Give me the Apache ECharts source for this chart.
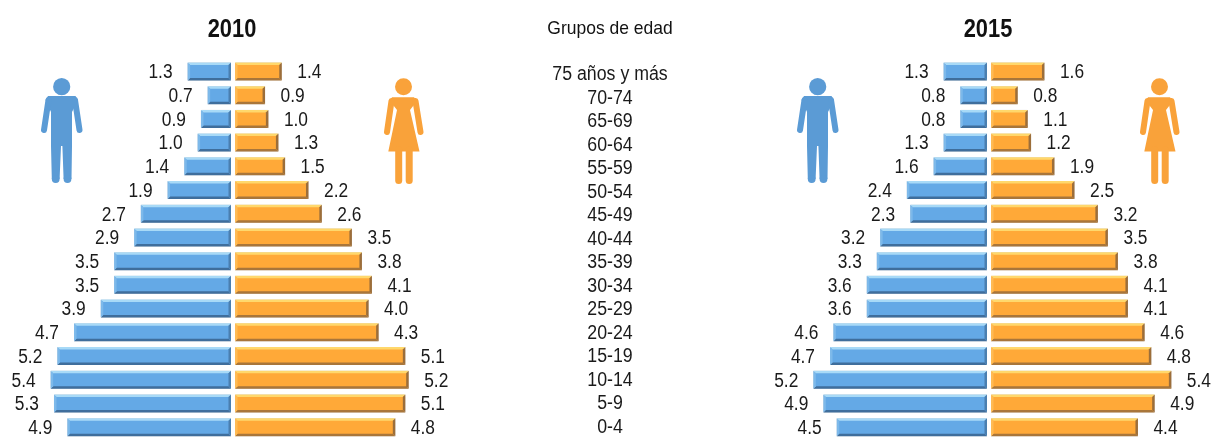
<!DOCTYPE html>
<html><head><meta charset="utf-8">
<style>html,body{margin:0;padding:0;background:#fff}#c{width:1213px;height:439px}</style>
<script src="https://cdn.jsdelivr.net/npm/echarts@6/dist/echarts.min.js"></script>
</head><body><div id="c"></div>
<script>
const ageGroups=['75 años y más','70-74','65-69','60-64','55-59','50-54','45-49','40-44','35-39','30-34','25-29','20-24','15-19','10-14','5-9','0-4'];
const men2010=[1.3,0.7,0.9,1.0,1.4,1.9,2.7,2.9,3.5,3.5,3.9,4.7,5.2,5.4,5.3,4.9];
const women2010=[1.4,0.9,1.0,1.3,1.5,2.2,2.6,3.5,3.8,4.1,4.0,4.3,5.1,5.2,5.1,4.8];
const men2015=[1.3,0.8,0.8,1.3,1.6,2.4,2.3,3.2,3.3,3.6,3.6,4.6,4.7,5.2,4.9,4.5];
const women2015=[1.6,0.8,1.1,1.2,1.9,2.5,3.2,3.5,3.8,4.1,4.1,4.6,4.8,5.4,4.9,4.4];
const FONT='"Liberation Sans",Arial,sans-serif';
const BLUE={fill:'#64a9e6',top:'#a8daf7',bottom:'#3f6e9c',start:'#7db9ea',end:'#4a7fb0'};
const ORANGE={fill:'#ffa938',top:'#ffd86c',bottom:'#a9763a',start:'#ffbb55',end:'#9c6e3a'};
const panels=[{l:30.6,c:235,m:men2010,w:women2010},{l:786.6,c:991,m:men2015,w:women2015}];
const grids=[],xAxes=[],yAxes=[],series=[];
function bevel(x0,x1,y0,y1,c){
 const b=2.5;
 const poly=(pts,col)=>({type:'polygon',shape:{points:pts},style:{fill:col}});
 return [
  poly([[x0,y0],[x1,y0],[x1-b,y0+b],[x0+b,y0+b]],c.top),
  poly([[x0,y1],[x1,y1],[x1-b,y1-b],[x0+b,y1-b]],c.bottom),
  poly([[x0,y0],[x0+b,y0+b],[x0+b,y1-b],[x0,y1]],c.start),
  poly([[x1,y0],[x1-b,y0+b],[x1-b,y1-b],[x1,y1]],c.end)];
}
function add(left,data,inverse,c){
 const i=grids.length;
 grids.push({left:left,top:59.6,width:200.4,height:380});
 xAxes.push({gridIndex:i,type:'value',min:0,max:6,inverse:inverse,show:false});
 yAxes.push({gridIndex:i,type:'category',data:ageGroups,inverse:true,show:false});
 series.push({type:'bar',xAxisIndex:i,yAxisIndex:i,data:data,barWidth:18,silent:true,
  itemStyle:{color:c.fill,borderColor:'#d6d6d6',borderWidth:1}});
 series.push({type:'custom',xAxisIndex:i,yAxisIndex:i,silent:true,clip:false,z:3,
  data:data.map((v,k)=>[v,k]),encode:{x:0,y:1},
  renderItem:(p,api)=>{
   const v=api.value(0),k=api.value(1),a=api.coord([0,k]),e=api.coord([v,k]);
   const x0=Math.min(a[0],e[0]),x1=Math.max(a[0],e[0]),y0=a[1]-9,y1=a[1]+9;
   return {type:'group',children:bevel(x0,x1,y0,y1,c).concat([{type:'text',x:inverse?x0-15:x1+15.5,y:a[1]+1.5,scaleX:0.89,
    style:{text:v.toFixed(1),align:inverse?'right':'left',verticalAlign:'middle',font:`19.5px ${FONT}`,fill:'#1a1a1a'}}])};
  }});
}
panels.forEach(p=>{add(p.l,p.m,true,BLUE);add(p.c,p.w,false,ORANGE);});
const ci=grids.length;
grids.push({left:510,top:63.2,width:200,height:379});
xAxes.push({gridIndex:ci,type:'value',min:0,max:1,show:false});
yAxes.push({gridIndex:ci,type:'category',data:ageGroups,inverse:true,show:false});
series.push({type:'custom',xAxisIndex:ci,yAxisIndex:ci,silent:true,clip:false,data:ageGroups.map((n,k)=>[0.5,k]),encode:{x:0,y:1},
 renderItem:(p,api)=>{
  const pt=api.coord([api.value(0),api.value(1)]);
  return {type:'text',x:pt[0],y:pt[1],scaleX:0.91,style:{text:ageGroups[p.dataIndex],align:'center',verticalAlign:'middle',font:`19.5px ${FONT}`,fill:'#1a1a1a'}};
 }});

const limb=(x1,y1,x2,y2,w,color)=>({type:'line',silent:true,shape:{x1,y1,x2,y2},style:{stroke:color,lineWidth:w,lineCap:'round'}});
const man=(dx,c)=>({type:'group',x:dx,silent:true,children:[
 {type:'circle',shape:{cx:61.7,cy:86.7,r:8.6},style:{fill:c}},
 {type:'polygon',shape:{points:[[48,96],[75.500,96],[78,100],[72,112],[72,146],[71.5,179],[63.6,179],[62.4,146],[61,146],[59.6,179],[51.8,179],[51,146],[51,112],[45.500,100]]},style:{fill:c}},
 limb(48.5,100,44,130,6,c),limb(75,100,79.5,130,6,c),
 {type:'circle',shape:{cx:55.7,cy:179,r:3.9},style:{fill:c}},
 {type:'circle',shape:{cx:67.5,cy:179,r:3.9},style:{fill:c}}]});
const woman=(dx,c)=>({type:'group',x:dx,silent:true,children:[
 {type:'circle',shape:{cx:403.5,cy:86.7,r:8.5},style:{fill:c}},
 {type:'polygon',shape:{points:[[392,97.300],[414,97.300],[417,101],[410,110],[419.500,151.500],[388.300,151.500],[397,110],[390,101]]},style:{fill:c}},
 limb(391.5,101,387,132,6,c),limb(415.5,101,420.5,132,6,c),
 limb(398.7,150,398.7,180.5,7,c),limb(409.2,150,409.2,180.5,7,c)]});
const text=(t,x,y,size,weight,sq)=>({type:'text',x:x,y:y,scaleX:sq,silent:true,style:{text:t,x:0,y:0,align:'center',verticalAlign:'middle',font:`${weight} ${size}px ${FONT}`,fill:'#111'}});

const chart=echarts.init(document.getElementById('c'),null,{renderer:'canvas'});
chart.setOption({animation:false,backgroundColor:'#fff',grid:grids,xAxis:xAxes,yAxis:yAxes,series:series,
 graphic:[
  text('2010',232,30,26,'bold',0.84),text('2015',988,30,26,'bold',0.84),text('Grupos de edad',610,29,19,'normal',0.92),
  man(0,'#5b9bd5'),woman(0,'#f9a23a'),man(756,'#5b9bd5'),woman(756,'#f9a23a')
 ]});
</script></body></html>
